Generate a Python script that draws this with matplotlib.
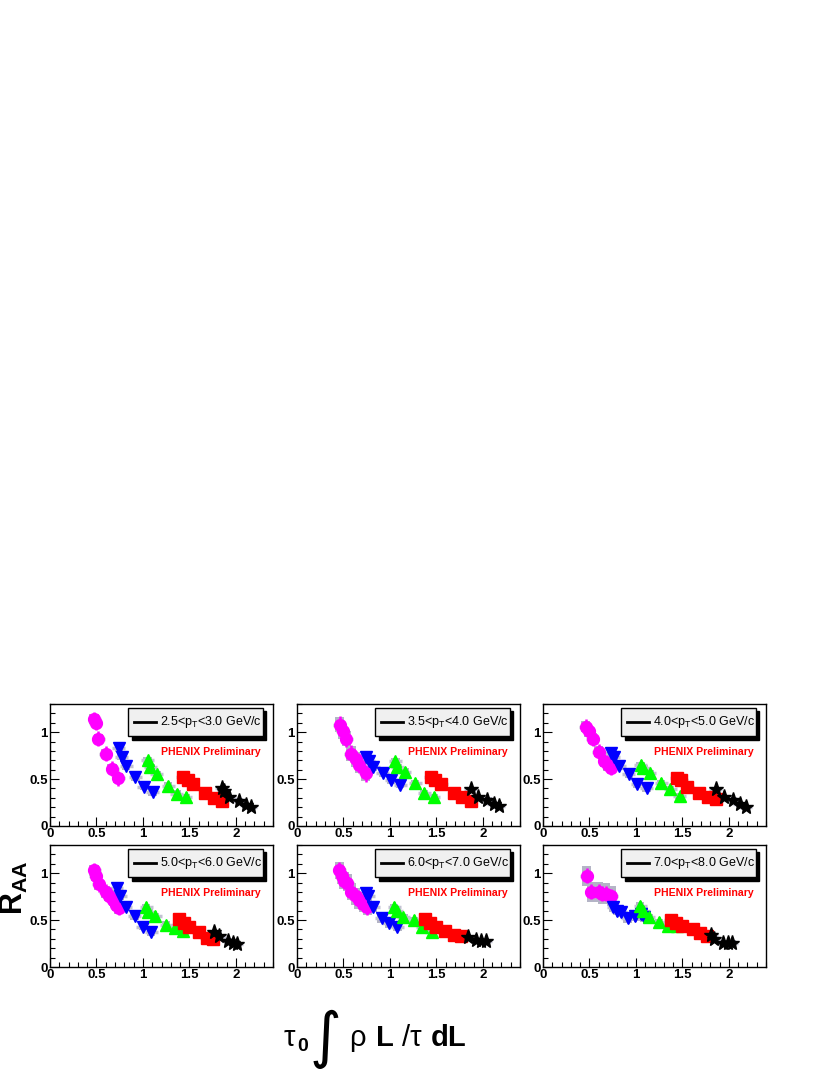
import matplotlib
matplotlib.use("Agg")
import matplotlib.pyplot as plt
from matplotlib.patches import Rectangle
from matplotlib.ticker import MultipleLocator

plt.rcParams['font.family'] = ['Liberation Sans', 'DejaVu Sans']
plt.rcParams['mathtext.fontset'] = 'custom'
plt.rcParams['mathtext.rm'] = 'Liberation Sans'
plt.rcParams['mathtext.it'] = 'Liberation Sans'
plt.rcParams['mathtext.bf'] = 'Liberation Sans:bold'

# pT bins, one per panel
pt_labels = ['2.5<p$_{T}$<3.0 GeV/c', '3.5<p$_{T}$<4.0 GeV/c', '4.0<p$_{T}$<5.0 GeV/c',
             '5.0<p$_{T}$<6.0 GeV/c', '6.0<p$_{T}$<7.0 GeV/c', '7.0<p$_{T}$<8.0 GeV/c']

# magenta circles
circ_x = [[0.475, 0.49, 0.52, 0.60, 0.668, 0.732],
          [0.46, 0.49, 0.53, 0.58, 0.63, 0.67, 0.74],
          [0.46, 0.49, 0.535, 0.60, 0.66, 0.70, 0.735],
          [0.475, 0.49, 0.525, 0.60, 0.635, 0.68, 0.715, 0.74],
          [0.455, 0.48, 0.505, 0.54, 0.585, 0.63, 0.665, 0.715, 0.755],
          [0.47, 0.52, 0.60, 0.64, 0.675, 0.735]]
circ_y = [[1.14, 1.10, 0.93, 0.77, 0.61, 0.51],
          [1.08, 1.01, 0.93, 0.77, 0.71, 0.65, 0.56],
          [1.06, 1.01, 0.93, 0.79, 0.69, 0.65, 0.62],
          [1.03, 0.975, 0.88, 0.80, 0.76, 0.71, 0.66, 0.63],
          [1.03, 0.97, 0.92, 0.90, 0.80, 0.755, 0.71, 0.675, 0.64],
          [0.97, 0.80, 0.80, 0.78, 0.78, 0.755]]
# blue down triangles
tdown_x = [[0.74, 0.77, 0.82, 0.92, 1.01, 1.105],
           [0.74, 0.77, 0.82, 0.925, 1.015, 1.11],
           [0.735, 0.76, 0.82, 0.925, 1.015, 1.115],
           [0.72, 0.755, 0.815, 0.91, 1.0, 1.09],
           [0.74, 0.765, 0.82, 0.91, 0.99, 1.08],
           [0.755, 0.80, 0.835, 0.91, 0.995, 1.06, 1.09]]
tdown_y = [[0.83, 0.74, 0.64, 0.52, 0.42, 0.36],
           [0.74, 0.69, 0.63, 0.56, 0.49, 0.44],
           [0.78, 0.74, 0.64, 0.55, 0.45, 0.40],
           [0.845, 0.755, 0.64, 0.54, 0.43, 0.37],
           [0.79, 0.755, 0.64, 0.52, 0.47, 0.43],
           [0.64, 0.60, 0.585, 0.52, 0.545, 0.56, 0.53]]
# green up triangles
tup_x = [[1.05, 1.08, 1.15, 1.27, 1.365, 1.46],
         [1.06, 1.08, 1.16, 1.27, 1.37, 1.47],
         [1.05, 1.08, 1.15, 1.27, 1.37, 1.47],
         [1.035, 1.06, 1.13, 1.25, 1.345, 1.435],
         [1.045, 1.075, 1.145, 1.26, 1.35, 1.45],
         [1.045, 1.08, 1.14, 1.25, 1.345, 1.44]]
tup_y = [[0.70, 0.63, 0.55, 0.43, 0.345, 0.31],
         [0.69, 0.63, 0.58, 0.46, 0.35, 0.31],
         [0.65, 0.62, 0.56, 0.46, 0.39, 0.32],
         [0.64, 0.585, 0.545, 0.45, 0.415, 0.38],
         [0.64, 0.60, 0.53, 0.50, 0.43, 0.37],
         [0.655, 0.60, 0.53, 0.48, 0.435, 0.435]]
# red squares
sq_x = [[1.43, 1.48, 1.535, 1.67, 1.77, 1.85],
        [1.44, 1.49, 1.55, 1.69, 1.78, 1.87],
        [1.44, 1.49, 1.55, 1.68, 1.78, 1.86],
        [1.39, 1.445, 1.50, 1.60, 1.685, 1.75],
        [1.375, 1.435, 1.50, 1.59, 1.685, 1.77],
        [1.375, 1.43, 1.50, 1.61, 1.69, 1.77]]
sq_y = [[0.52, 0.49, 0.45, 0.35, 0.30, 0.27],
        [0.52, 0.49, 0.45, 0.35, 0.31, 0.27],
        [0.51, 0.49, 0.42, 0.35, 0.31, 0.29],
        [0.51, 0.47, 0.43, 0.37, 0.31, 0.30],
        [0.51, 0.47, 0.43, 0.38, 0.345, 0.33],
        [0.50, 0.47, 0.44, 0.40, 0.365, 0.335]]
# black stars
star_x = [[1.85, 1.87, 1.93, 2.03, 2.11, 2.16],
          [1.87, 1.95, 2.05, 2.12, 2.17],
          [1.86, 1.95, 2.04, 2.12, 2.18],
          [1.77, 1.82, 1.92, 1.965, 2.01],
          [1.84, 1.93, 1.98, 2.03],
          [1.81, 1.845, 1.935, 1.99, 2.03]]
star_y = [[0.40, 0.37, 0.31, 0.27, 0.22, 0.20],
          [0.39, 0.31, 0.28, 0.23, 0.21],
          [0.39, 0.31, 0.28, 0.23, 0.20],
          [0.37, 0.33, 0.28, 0.26, 0.24],
          [0.32, 0.285, 0.275, 0.275],
          [0.34, 0.30, 0.26, 0.26, 0.26]]

# statistical (bar) and systematic (box) errors per panel
circ_stat = [0.08, 0.09, 0.08, 0.08, 0.09, 0.08]
circ_sys = [0.05, 0.08, 0.06, 0.06, 0.09, 0.11]
tdown_stat = [0.04, 0.04, 0.04, 0.04, 0.04, 0.05]
tdown_sys = [0.04, 0.04, 0.04, 0.04, 0.05, 0.05]
tup_stat = [0.05, 0.05, 0.05, 0.05, 0.05, 0.05]
tup_sys = [0.035, 0.035, 0.035, 0.035, 0.035, 0.035]
sq_stat = [0.02, 0.02, 0.02, 0.02, 0.02, 0.02]
sq_sys = [0.03, 0.03, 0.03, 0.03, 0.03, 0.03]
star_stat = [0.02, 0.02, 0.02, 0.02, 0.02, 0.02]
star_sys = [0.025, 0.025, 0.025, 0.025, 0.025, 0.025]

W, H = 830, 1075
fig = plt.figure(figsize=(W / 100, H / 100), dpi=100)

col_left = [50, 297, 543]
row_top = [704, 845]
pw, ph = 223, 122

box_col = '#b4b4c6'
xerr_col = '#c2c2d2'

series = [
    (circ_x, circ_y, circ_stat, circ_sys, 'o', '#ff00ff', 8.5, 0.05),
    (tdown_x, tdown_y, tdown_stat, tdown_sys, 'v', '#0000ff', 9, 0.045),
    (tup_x, tup_y, tup_stat, tup_sys, '^', '#00ff00', 9, 0.045),
    (sq_x, sq_y, sq_stat, sq_sys, 's', '#ff0000', 8.5, 0.045),
    (star_x, star_y, star_stat, star_sys, '*', 'black', 11, 0.045),
]

for i in range(6):
    r, c = divmod(i, 3)
    ax = fig.add_axes([col_left[c] / W, 1 - (row_top[r] + ph) / H, pw / W, ph / H])
    ax.set_xlim(0, 2.4)
    ax.set_ylim(0, 1.3)

    for xs, ys, stat, sysl, mk, col, ms, hw in series:
        px, py = xs[i], ys[i]
        for x, y in zip(px, py):
            ax.add_patch(Rectangle((x - hw, y - sysl[i]), 2 * hw, 2 * sysl[i],
                                   facecolor=box_col, edgecolor='none', zorder=1))
        ax.hlines(py, [x - 0.07 for x in px], [x + 0.07 for x in px],
                  color=xerr_col, lw=2.5, zorder=1.5)
        ax.errorbar(px, py, yerr=stat[i], fmt=mk, color=col, ms=ms, mec=col,
                    elinewidth=1.8, capsize=0, zorder=3)

    # ROOT style legend with shadow
    bx0, bx1, by0, by1 = 0.352, 0.955, 0.735, 0.965
    ax.add_patch(Rectangle((bx0 + 0.014, by0 - 0.026), bx1 - bx0, by1 - by0,
                           transform=ax.transAxes, facecolor='black', edgecolor='black',
                           zorder=5, clip_on=False))
    ax.add_patch(Rectangle((bx0, by0), bx1 - bx0, by1 - by0, transform=ax.transAxes,
                           facecolor='#f0f0f0', edgecolor='black', lw=1, zorder=6,
                           clip_on=False))
    ax.plot([0.378, 0.475], [0.85, 0.85], transform=ax.transAxes, color='black',
            lw=2, zorder=7)
    ax.text(0.495, 0.85, pt_labels[i], transform=ax.transAxes, fontsize=9,
            va='center', ha='left', zorder=7)
    ax.text(0.72, 0.605, 'PHENIX Preliminary', transform=ax.transAxes, fontsize=7.6,
            fontweight='bold', color='red', ha='center', va='center', zorder=7)

    ax.xaxis.set_minor_locator(MultipleLocator(0.1))
    ax.yaxis.set_minor_locator(MultipleLocator(0.1))
    ax.set_xticks([0, 0.5, 1, 1.5, 2])
    ax.set_xticklabels(['0', '0.5', '1', '1.5', '2'])
    ax.set_yticks([0, 0.5, 1])
    ax.set_yticklabels(['0', '0.5', '1'])
    ax.tick_params(which='both', direction='in', top=False, right=False)
    ax.tick_params(which='major', length=6.5, width=0.8, pad=1.5, labelsize=9.5)
    ax.tick_params(which='minor', length=3.5, width=0.8)
    for lab in ax.get_xticklabels() + ax.get_yticklabels():
        lab.set_fontweight('bold')
    for sp in ax.spines.values():
        sp.set_linewidth(1)

# y title
fig.text(14 / W, 1 - 888 / H, r'$\mathbf{R}_{\mathbf{AA}}$', rotation=90, fontsize=22,
         ha='center', va='center')

# x title built from pieces
base = 1 - 1046 / H
fig.text(284 / W, base, 'τ', fontsize=21, ha='left', va='baseline')
fig.text(297 / W, 1 - 1051 / H, '0', fontsize=14, fontweight='bold', ha='left', va='baseline')
fig.text(325 / W, 1 - 1039 / H, '∫', fontsize=44, family='DejaVu Sans', ha='center', va='center')
renderer = fig.canvas.get_renderer()
xpos = 349
for s, wt, gap in [('ρ', 'normal', 10), ('L', 'bold', 9), ('/τ', 'normal', 9), ('dL', 'bold', 0)]:
    t = fig.text(xpos / W, base, s, fontsize=21, fontweight=wt, ha='left', va='baseline')
    xpos += t.get_window_extent(renderer).width + gap

fig.savefig('out.png', dpi=100)
